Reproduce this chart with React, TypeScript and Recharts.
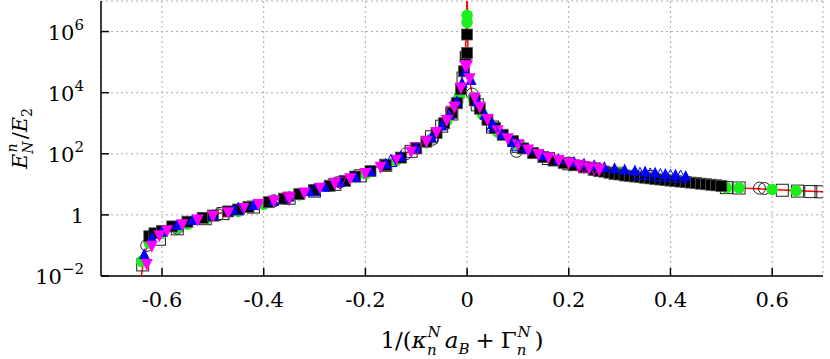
import { ScatterChart, Scatter, XAxis, YAxis, CartesianGrid, Label } from "recharts"

// ---- data: [x, E/E2] pairs ----
const theoryLine = [
  [-0.643, 0.005], [-0.638, 0.02], [-0.633, 0.06], [-0.625, 0.15], [-0.61, 0.26], [-0.59, 0.4],
  [-0.56, 0.56], [-0.52, 0.85], [-0.48, 1.2], [-0.44, 1.74], [-0.4, 2.5], [-0.36, 3.7],
  [-0.32, 5.8], [-0.28, 9.1], [-0.24, 15], [-0.2, 26], [-0.16, 49], [-0.12, 105],
  [-0.09, 200], [-0.06, 560], [-0.04, 1400], [-0.025, 3800], [-0.015, 1e4], [-0.008, 4e4],
  [-0.004, 1.6e5], [-0.002, 6e5], [-0.001, 2e6], [-0.0004, 1e7], [-0.0001, 1e8],
  [0.0001, 1e8], [0.0004, 1e7], [0.001, 1e6], [0.002, 1e5], [0.005, 2.5e4], [0.01, 9000],
  [0.02, 4500], [0.03, 2200], [0.045, 1000], [0.065, 450], [0.09, 230], [0.12, 132],
  [0.16, 72], [0.2, 50], [0.25, 35], [0.3, 26], [0.35, 21], [0.4, 16.6], [0.45, 12.4],
  [0.5, 8.5], [0.55, 7.4], [0.6, 6.8], [0.65, 6.2], [0.7, 5.7], [0.73, 5.4],
]

const greenCircles = [
  [0, 3.4e6], [0, 2e6],
  [-0.64, 0.03], [-0.625, 0.12], [-0.6, 0.25], [-0.57, 0.38], [-0.55, 0.5], [-0.51, 0.8],
  [-0.45, 1.3], [-0.4, 2.2], [-0.33, 4.5], [-0.27, 8.5], [-0.2, 22], [-0.14, 60],
  [-0.08, 230], [-0.04, 1200], [-0.015, 8000],
  [0.012, 7000], [0.03, 2000], [0.06, 520], [0.1, 190], [0.15, 80], [0.2, 50], [0.3, 24],
  [0.51, 7.8], [0.535, 7.7], [0.6, 6.8], [0.647, 6.1],
]

const blackSquares = [
  [-0.625, 0.2], [-0.615, 0.25], [-0.6, 0.3], [-0.58, 0.42], [-0.55, 0.6], [-0.52, 0.8],
  [-0.5, 0.95], [-0.47, 1.3], [-0.45, 1.5], [-0.43, 1.8], [-0.39, 2.6], [-0.36, 3.4],
  [-0.33, 4.8], [-0.3, 6.5], [-0.27, 9], [-0.24, 13], [-0.22, 18], [-0.19, 27], [-0.16, 42],
  [-0.13, 75], [-0.1, 150], [-0.08, 250], [-0.06, 480], [-0.045, 1000], [-0.03, 2200],
  [-0.02, 4500], [-0.012, 1.3e4], [-0.006, 5e4], [-0.003, 1.5e5],
  [0, 8e5], [0, 2e5],
  [0.015, 5600], [0.025, 3000], [0.04, 1300], [0.055, 700], [0.07, 420], [0.09, 260],
  [0.11, 150], [0.13, 105], [0.15, 78], [0.17, 60], [0.19, 50], [0.21, 42], [0.23, 36],
  [0.25, 30], [0.26, 27], [0.27, 26], [0.28, 24], [0.29, 22], [0.3, 21], [0.31, 19.5],
  [0.32, 18.8], [0.33, 18], [0.34, 17.2], [0.35, 16.5], [0.36, 15.7], [0.37, 15],
  [0.38, 14.4], [0.39, 13.8], [0.4, 13.3], [0.41, 12.8], [0.42, 12.3], [0.43, 11.9],
  [0.44, 11.4], [0.45, 11], [0.46, 10.5], [0.47, 10.1], [0.48, 9.7], [0.49, 9.3], [0.5, 8.9],
]

const openSquares = [
  [-0.638, 0.023], [-0.605, 0.16], [-0.57, 0.35], [-0.515, 0.75], [-0.48, 1.1], [-0.42, 1.8],
  [-0.35, 3.5], [-0.3, 6], [-0.26, 10], [-0.21, 19], [-0.16, 42], [-0.11, 120], [-0.07, 360],
  [-0.05, 800], [-0.03, 2000], [-0.008, 3e4],
  [0.02, 4000], [0.05, 750], [0.1, 175], [0.16, 70], [0.2, 47], [0.25, 32], [0.3, 23],
  [0.36, 18], [0.51, 7.8], [0.535, 7.6], [0.62, 6.4], [0.65, 6.0], [0.676, 5.8], [0.696, 5.7],
]

const openCircles = [
  [-0.63, 0.1], [-0.57, 0.37], [-0.49, 1.0], [-0.38, 2.9], [-0.25, 12], [-0.12, 100],
  [-0.068, 300], [-0.02, 5000],
  [0.01, 9000], [0.097, 120], [0.2, 50], [0.575, 7.5], [0.585, 7.3],
]

const blueTriangles = [
  [-0.635, 0.05], [-0.62, 0.17], [-0.6, 0.28], [-0.57, 0.45], [-0.54, 0.65], [-0.5, 0.95],
  [-0.46, 1.4], [-0.42, 2.0], [-0.38, 2.8], [-0.35, 3.8], [-0.31, 5.8], [-0.28, 8],
  [-0.25, 11.5], [-0.22, 17], [-0.19, 26], [-0.16, 45], [-0.13, 80], [-0.1, 150],
  [-0.07, 330], [-0.05, 800], [-0.035, 1800], [-0.02, 5000], [-0.01, 2e4], [-0.003, 5e4],
  [0.008, 2.5e4], [0.02, 5000], [0.035, 1800], [0.05, 900], [0.07, 420], [0.09, 230],
  [0.12, 140], [0.15, 85], [0.18, 64], [0.21, 52], [0.23, 46], [0.25, 40], [0.27, 35],
  [0.29, 32], [0.31, 29], [0.33, 27], [0.35, 25], [0.37, 23], [0.39, 21], [0.41, 19.5],
  [0.43, 18],
]

const blueOpenTriangles = [
  [-0.45, 1.5], [-0.3, 6], [-0.15, 55], [0.05, 800], [0.1, 180],
  [0.34, 21], [0.36, 20], [0.38, 19], [0.4, 18], [0.42, 17],
]

const magentaTriangles = [
  [-0.63, 0.025], [-0.62, 0.1], [-0.605, 0.22], [-0.59, 0.32], [-0.56, 0.5], [-0.53, 0.72],
  [-0.5, 0.95], [-0.47, 1.25], [-0.44, 1.7], [-0.41, 2.3], [-0.38, 3.0], [-0.35, 4.0],
  [-0.32, 5.5], [-0.29, 7.8], [-0.26, 11], [-0.23, 16], [-0.2, 24], [-0.17, 38],
  [-0.14, 65], [-0.11, 120], [-0.08, 260], [-0.06, 520], [-0.04, 1300], [-0.025, 3500],
  [-0.012, 1.5e4], [-0.004, 8e4], [0, 8e4],
  [0.005, 3e4], [0.015, 7000], [0.025, 3500], [0.04, 1400], [0.06, 600], [0.08, 330],
  [0.1, 210], [0.12, 140], [0.14, 100], [0.16, 78], [0.18, 63], [0.2, 52], [0.22, 44],
  [0.24, 38], [0.26, 32],
]

const magentaOpenTriangles = [
  [-0.35, 3.5], [-0.25, 12], [-0.1, 160], [-0.03, 2500],
  [0.22, 40], [0.23, 38], [0.24, 36], [0.25, 34], [0.26, 32],
]

const xTicks = [-0.6, -0.4, -0.2, 0, 0.2, 0.4, 0.6]
const yTicks = [1e-2, 1, 1e2, 1e4, 1e6]
const yTickExp = ["−2", "", "2", "4", "6"]

const FONT = "'DejaVu Serif', 'Liberation Serif', serif"

const pts = (a: number[][]) => a.map(([x, y]) => ({ x, y }))

// ---- marker shapes ----
const NoDot = () => <g />
const FilledSquare = (p: any) => (
  <rect x={p.cx - 5.5} y={p.cy - 5.5} width={11} height={11} fill="#000" stroke="#555" strokeWidth={0.8} />
)
const OpenSquare = (p: any) => (
  <rect x={p.cx - 6} y={p.cy - 6} width={12} height={12} fill="none" stroke="#222" strokeWidth={1} />
)
const OpenCircle = (p: any) => <circle cx={p.cx} cy={p.cy} r={6} fill="none" stroke="#222" strokeWidth={1} />
const GreenDot = (p: any) => <circle cx={p.cx} cy={p.cy} r={5.8} fill="#1aef1a" />
const triUp = (cx: number, cy: number, s: number) =>
  `${cx},${cy - s * 0.6} ${cx - s / 2},${cy + s * 0.4} ${cx + s / 2},${cy + s * 0.4}`
const triDown = (cx: number, cy: number, s: number) =>
  `${cx},${cy + s * 0.6} ${cx - s / 2},${cy - s * 0.4} ${cx + s / 2},${cy - s * 0.4}`
const BlueTri = (p: any) => <polygon points={triUp(p.cx, p.cy, 11)} fill="#0000ff" />
const BlueOpenTri = (p: any) => <polygon points={triUp(p.cx, p.cy, 12)} fill="none" stroke="#0000ff" strokeWidth={1} />
const MagTri = (p: any) => <polygon points={triDown(p.cx, p.cy, 12)} fill="#ff00ff" />
const MagOpenTri = (p: any) => <polygon points={triDown(p.cx, p.cy, 12)} fill="none" stroke="#cc00cc" strokeWidth={1} />

// ---- ticks (inward, gnuplot style) ----
const fmtX = (v: number) => (v === 0 ? "0" : v.toFixed(1))

const BottomTick = ({ x, y, payload }: any) => (
  <g>
    <line x1={x} y1={y} x2={x} y2={y - 8} stroke="#000" strokeWidth={1.5} />
    <text x={x} y={y + 31} textAnchor="middle" fontSize={21} fontFamily={FONT} fill="#000">
      {fmtX(payload.value)}
    </text>
  </g>
)
const TopTick = ({ x, y }: any) => <line x1={x} y1={y} x2={x} y2={y + 8} stroke="#000" strokeWidth={1.5} />
const LeftTick = ({ x, y, payload, index }: any) => {
  const exp = yTickExp[index]
  return (
    <g>
      <line x1={x} y1={y} x2={x + 8} y2={y} stroke="#000" strokeWidth={1.5} />
      <text x={x - 17} y={y + 8} textAnchor="end" fontSize={21} fontFamily={FONT} fill="#000">
        {payload.value === 1 ? (
          "1"
        ) : (
          <>
            <tspan>10</tspan>
            <tspan dy={-10} fontSize={15}>{exp}</tspan>
          </>
        )}
      </text>
    </g>
  )
}
const RightTick = ({ x, y }: any) => <line x1={x} y1={y} x2={x - 8} y2={y} stroke="#000" strokeWidth={1.5} />

const YTitle = ({ viewBox }: any) => {
  const cx = viewBox.x + 27
  const cy = viewBox.y + viewBox.height / 2
  return (
    <text x={cx} y={cy} transform={`rotate(-90, ${cx}, ${cy})`} textAnchor="middle" fontSize={21} fontFamily={FONT} fill="#000">
      <tspan fontStyle="italic">E</tspan>
      <tspan fontStyle="italic" fontSize={14} dy={6}>N</tspan>
      <tspan fontStyle="italic" fontSize={14} dx={-11} dy={-16}>n</tspan>
      <tspan dx={4} dy={10}>/</tspan>
      <tspan fontStyle="italic">E</tspan>
      <tspan fontSize={14} dy={5}>2</tspan>
    </text>
  )
}

const XTitle = ({ viewBox }: any) => {
  const cx = viewBox.x + viewBox.width / 2
  const cy = viewBox.y + 72
  return (
    <text x={cx} y={cy} textAnchor="middle" fontSize={23} fontFamily={FONT} fill="#000">
      <tspan>1/(</tspan>
      <tspan fontStyle="italic">κ</tspan>
      <tspan fontStyle="italic" fontSize={15} dy={7}>n</tspan>
      <tspan fontStyle="italic" fontSize={15} dx={-9} dy={-18}>N</tspan>
      <tspan fontStyle="italic" dx={4} dy={11}>a</tspan>
      <tspan fontStyle="italic" fontSize={15} dy={6}>B</tspan>
      <tspan dx={6} dy={-6}>+</tspan>
      <tspan dx={6}>Γ</tspan>
      <tspan fontStyle="italic" fontSize={15} dy={7}>n</tspan>
      <tspan fontStyle="italic" fontSize={15} dx={-9} dy={-18}>N</tspan>
      <tspan dx={4} dy={11}>)</tspan>
    </text>
  )
}

export default function App() {
  return (
    <div style={{ position: "absolute", left: 0, top: 0, background: "#fff" }}>
      <ScatterChart width={830} height={359} margin={{ top: 1, right: 7, bottom: 0, left: 0 }}>
        <CartesianGrid stroke="#aaa" strokeDasharray="2 3" strokeWidth={1} />
        <XAxis
          type="number"
          dataKey="x"
          domain={[-0.72, 0.7]}
          ticks={xTicks}
          allowDataOverflow
          height={83}
          tickSize={0}
          tickMargin={0}
          tick={<BottomTick />}
          axisLine={{ stroke: "#000", strokeWidth: 1.5 }}
        >
          <Label content={<XTitle />} />
        </XAxis>
        <XAxis
          xAxisId="top"
          orientation="top"
          type="number"
          domain={[-0.72, 0.7]}
          ticks={xTicks}
          allowDataOverflow
          height={0}
          tickSize={0}
          tickMargin={0}
          tick={<TopTick />}
          axisLine={{ stroke: "#000", strokeWidth: 1.5 }}
        />
        <YAxis
          type="number"
          dataKey="y"
          scale="log"
          domain={[1e-2, 1e7]}
          ticks={yTicks}
          allowDataOverflow
          width={101}
          tickSize={0}
          tickMargin={0}
          tick={<LeftTick />}
          axisLine={{ stroke: "#000", strokeWidth: 1.5 }}
        >
          <Label content={<YTitle />} />
        </YAxis>
        <YAxis
          yAxisId="right"
          orientation="right"
          type="number"
          scale="log"
          domain={[1e-2, 1e7]}
          ticks={yTicks}
          allowDataOverflow
          width={0}
          tickSize={0}
          tickMargin={0}
          tick={<RightTick />}
          axisLine={{ stroke: "#000", strokeWidth: 1.5 }}
        />
        <Scatter data={pts(theoryLine)} line={{ stroke: "#ff0000", strokeWidth: 1.5 }} shape={NoDot} isAnimationActive={false} />
        <Scatter data={pts(openSquares)} shape={OpenSquare} isAnimationActive={false} />
        <Scatter data={pts(openCircles)} shape={OpenCircle} isAnimationActive={false} />
        <Scatter data={pts(greenCircles)} shape={GreenDot} isAnimationActive={false} />
        <Scatter data={pts(blackSquares)} shape={FilledSquare} isAnimationActive={false} />
        <Scatter data={pts(blueTriangles)} shape={BlueTri} isAnimationActive={false} />
        <Scatter data={pts(magentaTriangles)} shape={MagTri} isAnimationActive={false} />
        <Scatter data={pts(magentaOpenTriangles)} shape={MagOpenTri} isAnimationActive={false} />
        <Scatter data={pts(blueOpenTriangles)} shape={BlueOpenTri} isAnimationActive={false} />
      </ScatterChart>
    </div>
  )
}
